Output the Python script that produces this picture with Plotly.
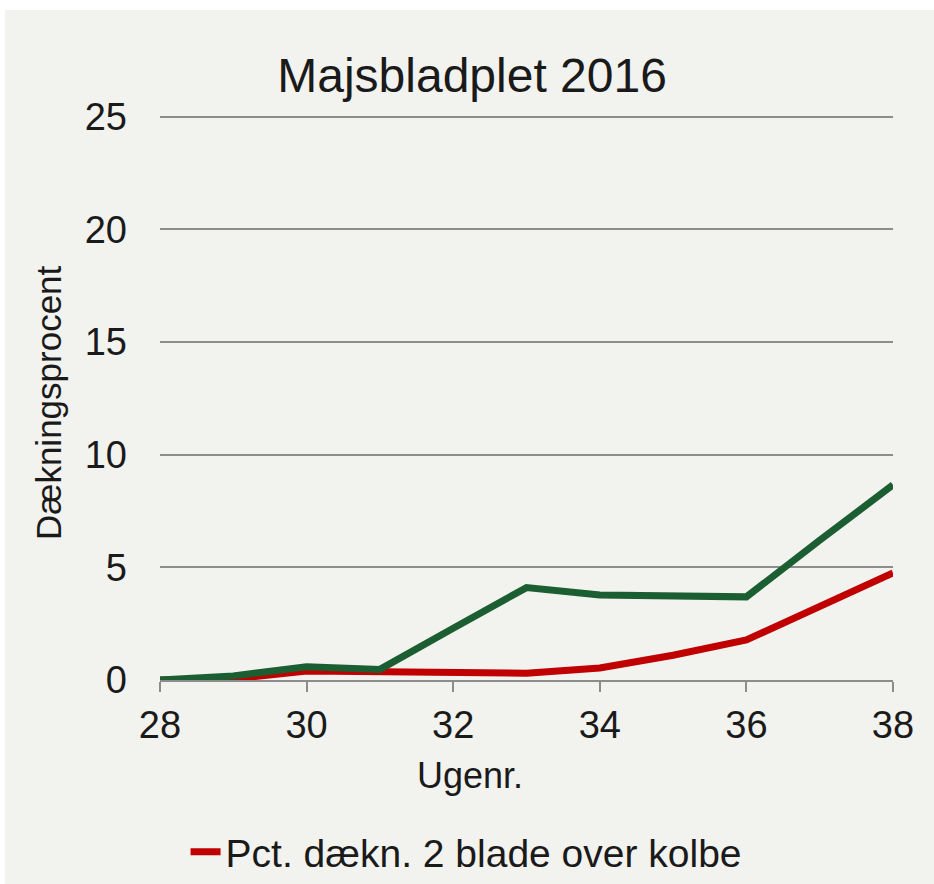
import plotly.graph_objects as go

# Ugenumre og dækningsprocenter
weeks = [28, 29, 30, 31, 32, 33, 34, 35, 36, 37, 38]
pct_2_blade = [0.0, 0.05, 0.4, 0.38, 0.35, 0.3, 0.53, 1.1, 1.78, 3.25, 4.75]
pct_green = [0.0, 0.18, 0.59, 0.47, 2.3, 4.1, 3.77, 3.72, 3.69, 6.2, 8.66]

y_ticks = [0, 5, 10, 15, 20, 25]
x_ticks = [28, 30, 32, 34, 36, 38]

FONT = "Liberation Sans, Arial, sans-serif"
BG = "#f2f2ee"
TXT = "#1a1a1a"

fig = go.Figure()

fig.add_trace(go.Scatter(x=weeks, y=pct_2_blade, mode='lines',
                         line=dict(color='#c00000', width=7),
                         name='Pct. dækn. 2 blade over kolbe'))
fig.add_trace(go.Scatter(x=weeks, y=pct_green, mode='lines',
                         line=dict(color='#1b5e31', width=7),
                         name='Pct. dækn.', showlegend=False))

# grey panel, white strip at the top and left edge
fig.add_shape(type='rect', xref='paper', yref='paper', layer='below',
              x0=(5 - 160) / 733, x1=1.1, y0=-0.4, y1=(680 - 10) / 570,
              fillcolor=BG, line=dict(width=0))

fig.update_layout(
    width=934, height=884,
    margin=dict(l=160, r=41, t=110, b=204),
    paper_bgcolor='white', plot_bgcolor=BG,
    font=dict(family=FONT, color=TXT),
    title=dict(text='Majsbladplet 2016', x=0.5054, xref='container', xanchor='center',
               y=0.915, yref='container', yanchor='middle',
               font=dict(size=48, family=FONT, color=TXT)),
    showlegend=True,
    legend=dict(orientation='h', xref='container', yref='container',
                x=0.499, xanchor='center', y=0.0362, yanchor='middle',
                font=dict(size=39, family=FONT, color=TXT),
                bgcolor='rgba(0,0,0,0)', itemwidth=30),
    annotations=[
        dict(text='Ugenr.', xref='paper', yref='paper', x=(470 - 160) / 733, y=(680 - 775) / 570,
             showarrow=False, xanchor='center', yanchor='middle',
             font=dict(size=36, family=FONT, color=TXT)),
        dict(text='Dækningsprocent', xref='paper', yref='paper', x=(48 - 160) / 733, y=(680 - 403) / 570,
             showarrow=False, xanchor='center', yanchor='middle', textangle=-90,
             font=dict(size=35, family=FONT, color=TXT)),
    ],
)

fig.update_xaxes(range=[28, 38], tickvals=x_ticks, showgrid=False, zeroline=False,
                 showline=True, linecolor='#8c8c8c', linewidth=2,
                 ticks='outside', ticklen=10, tickwidth=2, tickcolor='#8c8c8c',
                 ticklabelstandoff=0,
                 tickfont=dict(size=38, family=FONT, color=TXT))
# range a bit above 25 so the top gridline is drawn
fig.update_yaxes(range=[0, 25.3], tickvals=y_ticks, showgrid=True, gridcolor='#8c8c8c',
                 gridwidth=1.5, zeroline=False, showline=False, ticks='',
                 ticklabelstandoff=32,
                 tickfont=dict(size=38, family=FONT, color=TXT))

fig.write_html("out.html", config={'displayModeBar': False},
               post_script="document.body.style.margin='0';document.body.style.overflow='hidden';")
